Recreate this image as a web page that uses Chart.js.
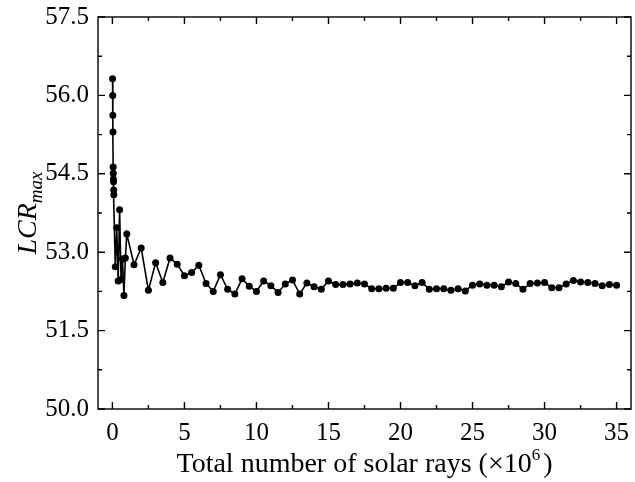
<!DOCTYPE html>
<html>
<head>
<meta charset="utf-8">
<script src="https://cdn.jsdelivr.net/npm/chart.js@4.4.1/dist/chart.umd.min.js"></script>
<style>
  html, body { margin: 0; padding: 0; background: #fff; }
</style>
</head>
<body>
<canvas id="chart" width="635" height="482"></canvas>
<script>
// total number of solar rays (x10^6)
const rays = [
  0.01, 0.02, 0.03, 0.04, 0.05, 0.06, 0.07, 0.08, 0.09, 0.1,
  0.2, 0.3, 0.4, 0.5, 0.6, 0.7, 0.8, 0.9, 1.0,
  1.5, 2, 2.5, 3, 3.5, 4, 4.5, 5, 5.5, 6, 6.5, 7, 7.5, 8, 8.5, 9, 9.5, 10,
  10.5, 11, 11.5, 12, 12.5, 13, 13.5, 14, 14.5, 15, 15.5, 16, 16.5, 17, 17.5, 18,
  18.5, 19, 19.5, 20, 20.5, 21, 21.5, 22, 22.5, 23, 23.5, 24, 24.5, 25, 25.5, 26,
  26.5, 27, 27.5, 28, 28.5, 29, 29.5, 30, 30.5, 31, 31.5, 32, 32.5, 33, 33.5, 34,
  34.5, 35
];

// LCR max
const lcrMax = [
  56.32, 56.00, 55.62, 55.30, 54.63, 54.51, 54.40, 54.35, 54.19, 54.10,
  52.72, 53.47, 52.45, 53.81, 52.48, 52.87, 52.17, 52.89, 53.35,
  52.76, 53.08, 52.27, 52.80, 52.42, 52.89, 52.77, 52.55, 52.61, 52.75, 52.40, 52.25, 52.57, 52.29, 52.20, 52.49, 52.35, 52.25,
  52.45, 52.36, 52.23, 52.39, 52.47, 52.20, 52.41, 52.34, 52.29, 52.45, 52.38, 52.38, 52.39, 52.41, 52.39, 52.30,
  52.30, 52.31, 52.31, 52.42, 52.42, 52.36, 52.42, 52.29, 52.30, 52.30, 52.27, 52.30, 52.26, 52.37, 52.39, 52.37,
  52.37, 52.34, 52.43, 52.40, 52.29, 52.40, 52.41, 52.42, 52.32, 52.32, 52.39, 52.46, 52.43, 52.42, 52.40, 52.36,
  52.38, 52.37
];

const xTicks = [0, 5, 10, 15, 20, 25, 30, 35];
const yTicks = [50.0, 51.5, 53.0, 54.5, 56.0, 57.5];

const serif = "'Liberation Serif', 'Times New Roman', serif";

// minor ticks halfway between the major ones
const minorOf = (ticks) => ticks.slice(1).map((v, i) => (v + ticks[i]) / 2);

// frame, inward ticks and axis titles (Origin style)
const framePlugin = {
  id: 'frame',
  afterDraw(chart) {
    const { ctx, chartArea: a, scales } = chart;
    const xs = scales.x, ys = scales.y;
    ctx.save();
    ctx.strokeStyle = '#000';
    ctx.lineWidth = 1.4;
    ctx.strokeRect(a.left, a.top, a.right - a.left, a.bottom - a.top);

    ctx.beginPath();
    const tickX = (v, len) => {
      const px = xs.getPixelForValue(v);
      ctx.moveTo(px, a.bottom); ctx.lineTo(px, a.bottom - len);
      ctx.moveTo(px, a.top); ctx.lineTo(px, a.top + len);
    };
    const tickY = (v, len) => {
      const py = ys.getPixelForValue(v);
      ctx.moveTo(a.left, py); ctx.lineTo(a.left + len, py);
      ctx.moveTo(a.right, py); ctx.lineTo(a.right - len, py);
    };
    xTicks.forEach(v => tickX(v, 7));
    minorOf(xTicks).forEach(v => tickX(v, 4));
    yTicks.forEach(v => tickY(v, 7));
    minorOf(yTicks).forEach(v => tickY(v, 4));
    ctx.stroke();

    // y title: LCR with subscript max
    ctx.fillStyle = '#000';
    ctx.textBaseline = 'alphabetic';
    ctx.textAlign = 'left';
    const cy = (a.top + a.bottom) / 2;
    ctx.translate(36, cy);
    ctx.rotate(-Math.PI / 2);
    ctx.font = 'italic 28px ' + serif;
    const w1 = ctx.measureText('LCR').width;
    ctx.font = 'italic 19px ' + serif;
    const w2 = ctx.measureText('max').width;
    let x0 = -(w1 + w2) / 2;
    ctx.font = 'italic 28px ' + serif;
    ctx.fillText('LCR', x0, 0);
    ctx.font = 'italic 19px ' + serif;
    ctx.fillText('max', x0 + w1, 6);
    ctx.restore();

    // x title with superscript 6
    ctx.save();
    ctx.fillStyle = '#000';
    ctx.textBaseline = 'alphabetic';
    ctx.textAlign = 'left';
    const p1 = 'Total number of solar rays (\u00d710', p2 = '6', p3 = ' )';
    ctx.font = '28px ' + serif;
    const a1 = ctx.measureText(p1).width, a3 = ctx.measureText(p3).width;
    ctx.font = '17px ' + serif;
    const a2 = ctx.measureText(p2).width;
    const cx = (a.left + a.right) / 2;
    let sx = cx - (a1 + a2 + a3 - 4) / 2;
    const by = 472;
    ctx.font = '28px ' + serif;
    ctx.fillText(p1, sx, by);
    ctx.font = '17px ' + serif;
    ctx.fillText(p2, sx + a1, by - 12);
    ctx.font = '28px ' + serif;
    ctx.fillText(p3, sx + a1 + a2 - 4, by);
    ctx.restore();
  }
};

const points = rays.map((x, i) => ({ x: x, y: lcrMax[i] }));

new Chart(document.getElementById('chart'), {
  type: 'line',
  data: {
    datasets: [{
      data: points,
      borderColor: '#000',
      borderWidth: 1.6,
      backgroundColor: '#000',
      pointRadius: 3.5,
      pointBackgroundColor: '#000',
      pointBorderWidth: 0,
      tension: 0
    }]
  },
  options: {
    responsive: false,
    animation: false,
    devicePixelRatio: 1,
    layout: { padding: { top: 17, right: 1, left: 0, bottom: 0 } },
    plugins: { legend: { display: false }, tooltip: { enabled: false } },
    scales: {
      x: {
        type: 'linear',
        min: -1,
        max: 36,
        afterBuildTicks: (s) => { s.ticks = xTicks.map(v => ({ value: v })); },
        afterFit: (s) => { s.height = 73; s.paddingLeft = 0; s.paddingRight = 0; },
        grid: { display: false, drawTicks: false },
        border: { display: false },
        ticks: {
          padding: 9,
          color: '#000',
          font: { family: serif, size: 25 },
          maxRotation: 0,
          callback: (v) => String(v)
        }
      },
      y: {
        type: 'linear',
        min: 50,
        max: 57.5,
        afterBuildTicks: (s) => { s.ticks = yTicks.map(v => ({ value: v })); },
        afterFit: (s) => { s.width = 98; s.paddingTop = 0; s.paddingBottom = 0; },
        grid: { display: false, drawTicks: false },
        border: { display: false },
        ticks: {
          padding: 9,
          color: '#000',
          font: { family: serif, size: 25 },
          callback: (v) => Number(v).toFixed(1)
        }
      }
    }
  },
  plugins: [framePlugin]
});
</script>
</body>
</html>
